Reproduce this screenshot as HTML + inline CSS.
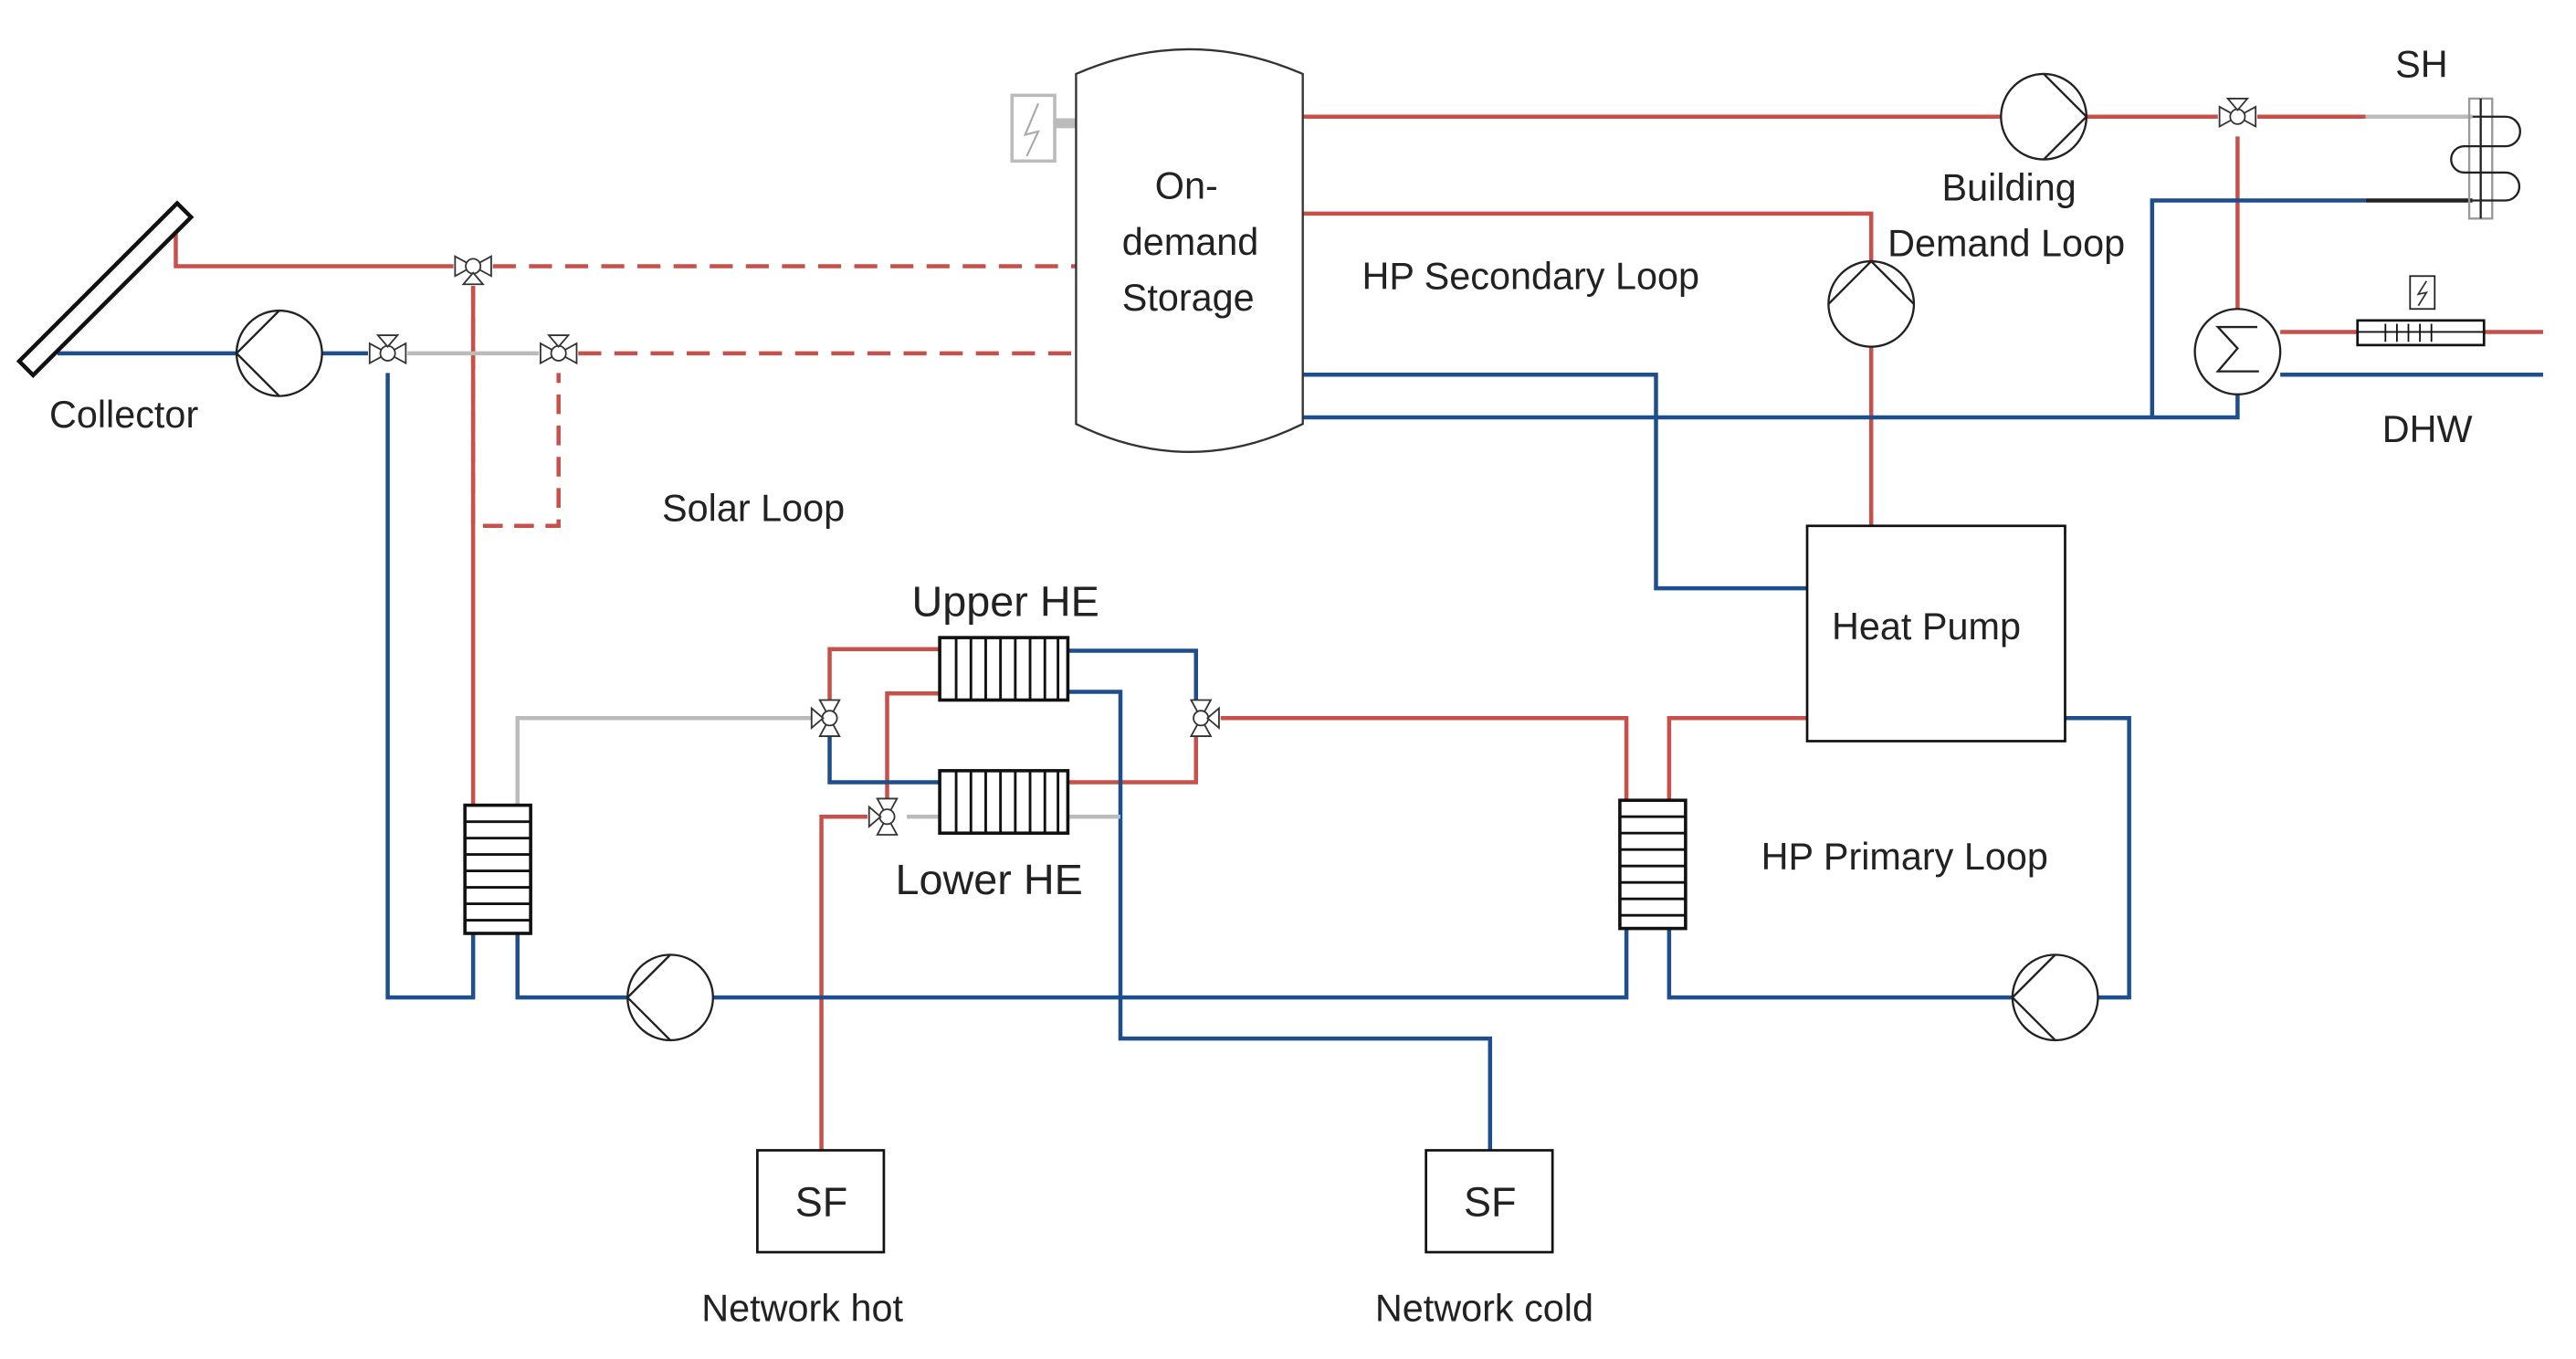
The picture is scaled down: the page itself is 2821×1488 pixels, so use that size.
<!DOCTYPE html>
<html><head><meta charset="utf-8"><style>
html,body{margin:0;padding:0;background:#fff;}
svg{display:block;}
text{font-family:"Liberation Sans","DejaVu Sans",sans-serif;font-size:23px;fill:#222;}
</style></head><body>
<svg width="2821" height="1488" viewBox="0 0 1568 827" preserveAspectRatio="none" xmlns="http://www.w3.org/2000/svg">
<defs>
<g id="valveV"><path d="M-6,-11 L6,-11 L0,0 Z M-6,11 L6,11 L0,0 Z" fill="#fff" stroke="#333" stroke-width="1"/><circle r="4.5" fill="#fff" stroke="#333" stroke-width="1"/><path d="M-11,-6 L-11,6 L-4,0 Z" fill="#fff" stroke="#333" stroke-width="1"/></g>
<g id="valveH"><path d="M-11,-6 L-11,6 L0,0 Z M11,-6 L11,6 L0,0 Z" fill="#fff" stroke="#333" stroke-width="1"/><circle r="4.5" fill="#fff" stroke="#333" stroke-width="1"/><path d="M-6,11 L6,11 L0,4 Z" fill="#fff" stroke="#333" stroke-width="1"/></g>
</defs>
<g fill="none" stroke-width="2.5">
<g stroke="#c8504a">
<path d="M107,140 V162 H276"/>
<path d="M300,162 H655" stroke-dasharray="14,8"/>
<path d="M352,215 H655" stroke-dasharray="14,8"/>
<path d="M288,174 V490"/>
<path d="M288,174 V320 H340 V227" stroke-dasharray="12,7"/>
<path d="M505,426 V395 H572"/>
<path d="M572,422 H540 V486"/>
<path d="M500,700 V497 H528"/>
<path d="M650,476 H728 V448"/>
<path d="M743,437 H990 V487"/>
<path d="M1016,487 V437 H1100"/>
<path d="M793,71 H1218"/>
<path d="M1270,71 H1350"/>
<path d="M1374,71 H1440"/>
<path d="M793,130 H1139 V159"/>
<path d="M1139,211 V320"/>
<path d="M1362,83 V188"/>
<path d="M1388,202 H1435"/>
<path d="M1512,202 H1548"/>
</g>
<g stroke="#1f4e8c">
<path d="M35,215 H144"/>
<path d="M196,215 H224"/>
<path d="M236,227 V607 H288 V568"/>
<path d="M315,568 V607 H382"/>
<path d="M434,607 H990 V565"/>
<path d="M1016,565 V607 H1225"/>
<path d="M1277,607 H1296 V437 H1257"/>
<path d="M505,448 V476 H572"/>
<path d="M650,396 H728 V426"/>
<path d="M650,421 H682 V632 H907 V700"/>
<path d="M793,228 H1008 V358 H1100"/>
<path d="M793,254 H1362 V240"/>
<path d="M1310,254 V122 H1440"/>
<path d="M1388,228 H1548"/>
</g>
<g stroke="#bbb">
<path d="M248,215 H328"/>
<path d="M315,490 V437 H494"/>
<path d="M552,497 H572"/>
<path d="M650,497 H682"/>
<path d="M1440,71 H1505"/>
<path d="M642,75 H720" stroke-width="6"/>
</g>
<path d="M1440,122 H1505" stroke="#222"/>
</g>
<g transform="translate(64,176) rotate(-45)"><rect x="-68" y="-6" width="136" height="12" fill="#fff" stroke="#111" stroke-width="2.5"/></g>
<g fill="#fff" stroke="#222" stroke-width="1.3">
<circle cx="170" cy="215" r="26"/><path d="M170,189 L144,215 L170,241" fill="none"/>
<circle cx="408" cy="607" r="26"/><path d="M408,581 L382,607 L408,633" fill="none"/>
<circle cx="1251" cy="607" r="26"/><path d="M1251,581 L1225,607 L1251,633" fill="none"/>
<circle cx="1244" cy="71" r="26"/><path d="M1244,45 L1270,71 L1244,97" fill="none"/>
<circle cx="1139" cy="185" r="26"/><path d="M1113,185 L1139,159 L1165,185" fill="none"/>
<circle cx="1362" cy="214" r="26"/><path d="M1374,199 L1350,199 L1362,212 L1350,226 H1375" fill="none"/>
</g>
<use href="#valveH" x="288" y="162"/>
<use href="#valveH" x="236" y="215" transform="rotate(180 236 215)"/>
<use href="#valveH" x="340" y="215" transform="rotate(180 340 215)"/>
<use href="#valveV" x="505" y="437"/>
<use href="#valveV" x="731" y="437" transform="rotate(180 731 437)"/>
<use href="#valveV" x="540" y="497"/>
<use href="#valveH" x="1362" y="71" transform="rotate(180 1362 71)"/>
<g fill="#fff" stroke="#111" stroke-width="2">
<rect x="572" y="388" width="78" height="38"/>
<rect x="572" y="469" width="78" height="38"/>
<rect x="283" y="490" width="40" height="78"/>
<rect x="986" y="487" width="40" height="78"/>
</g>
<g stroke="#111" stroke-width="1.6">
<path d="M582,388V426M591,388V426M600,388V426M609,388V426M618,388V426M627,388V426M636,388V426M644,388V426"/>
<path d="M582,469V507M591,469V507M600,469V507M609,469V507M618,469V507M627,469V507M636,469V507M644,469V507"/>
<path d="M283,500H323M283,510H323M283,520H323M283,530H323M283,540H323M283,550H323M283,560H323"/>
<path d="M986,497H1026M986,507H1026M986,517H1026M986,527H1026M986,537H1026M986,547H1026M986,557H1026"/>
</g>
<path d="M655,45 Q724,15 793,45 V258 Q724,292 655,258 Z" fill="#fff" stroke="#333" stroke-width="1.3"/>
<rect x="616" y="58" width="26" height="40" fill="#fff" stroke="#bbb" stroke-width="2"/>
<path d="M632,63 L624,82 L632,80 L625,95" fill="none" stroke="#aaa" stroke-width="1.2"/>
<rect x="1100" y="320" width="157" height="131" fill="#fff" stroke="#111" stroke-width="1.5"/>
<rect x="461" y="700" width="77" height="62" fill="#fff" stroke="#111" stroke-width="1.5"/>
<rect x="868" y="700" width="77" height="62" fill="#fff" stroke="#111" stroke-width="1.5"/>
<g fill="none" stroke="#222" stroke-width="1.3">
<rect x="1503" y="60" width="14" height="73" stroke="#999"/>
<line x1="1510" y1="60" x2="1510" y2="133"/>
<path d="M1505,71 H1525 A8,8 0 0 1 1525,89 H1500 A7.5,7.5 0 0 0 1500,105 H1525 A8.5,8.5 0 0 1 1525,122 H1505"/>
</g>
<rect x="1435" y="195" width="77" height="15" fill="#fff" stroke="#111" stroke-width="1.5"/>
<path d="M1452,197V208M1459,197V208M1466,197V208M1473,197V208M1480,197V208M1435,202H1512" stroke="#111" stroke-width="1"/>
<rect x="1467" y="168" width="15" height="20" fill="#fff" stroke="#222" stroke-width="1"/>
<path d="M1477,171 L1472,179 L1477,178 L1472,186" fill="none" stroke="#333" stroke-width="1"/>
<text x="30" y="260">Collector</text>
<text x="403" y="317">Solar Loop</text>
<text x="703" y="121">On-</text>
<text x="683" y="155">demand</text>
<text x="683" y="189">Storage</text>
<text x="829" y="176">HP Secondary Loop</text>
<text x="1182" y="122">Building</text>
<text x="1149" y="156">Demand Loop</text>
<text x="1458" y="47">SH</text>
<text x="1450" y="269">DHW</text>
<text x="1115" y="389">Heat Pump</text>
<text x="1072" y="529">HP Primary Loop</text>
<text x="555" y="375" style="font-size:26px">Upper HE</text>
<text x="545" y="544" style="font-size:26px">Lower HE</text>
<text x="484" y="740" style="font-size:25px">SF</text>
<text x="891" y="740" style="font-size:25px">SF</text>
<text x="427" y="804">Network hot</text>
<text x="837" y="804">Network cold</text>
</svg>
</body></html>
